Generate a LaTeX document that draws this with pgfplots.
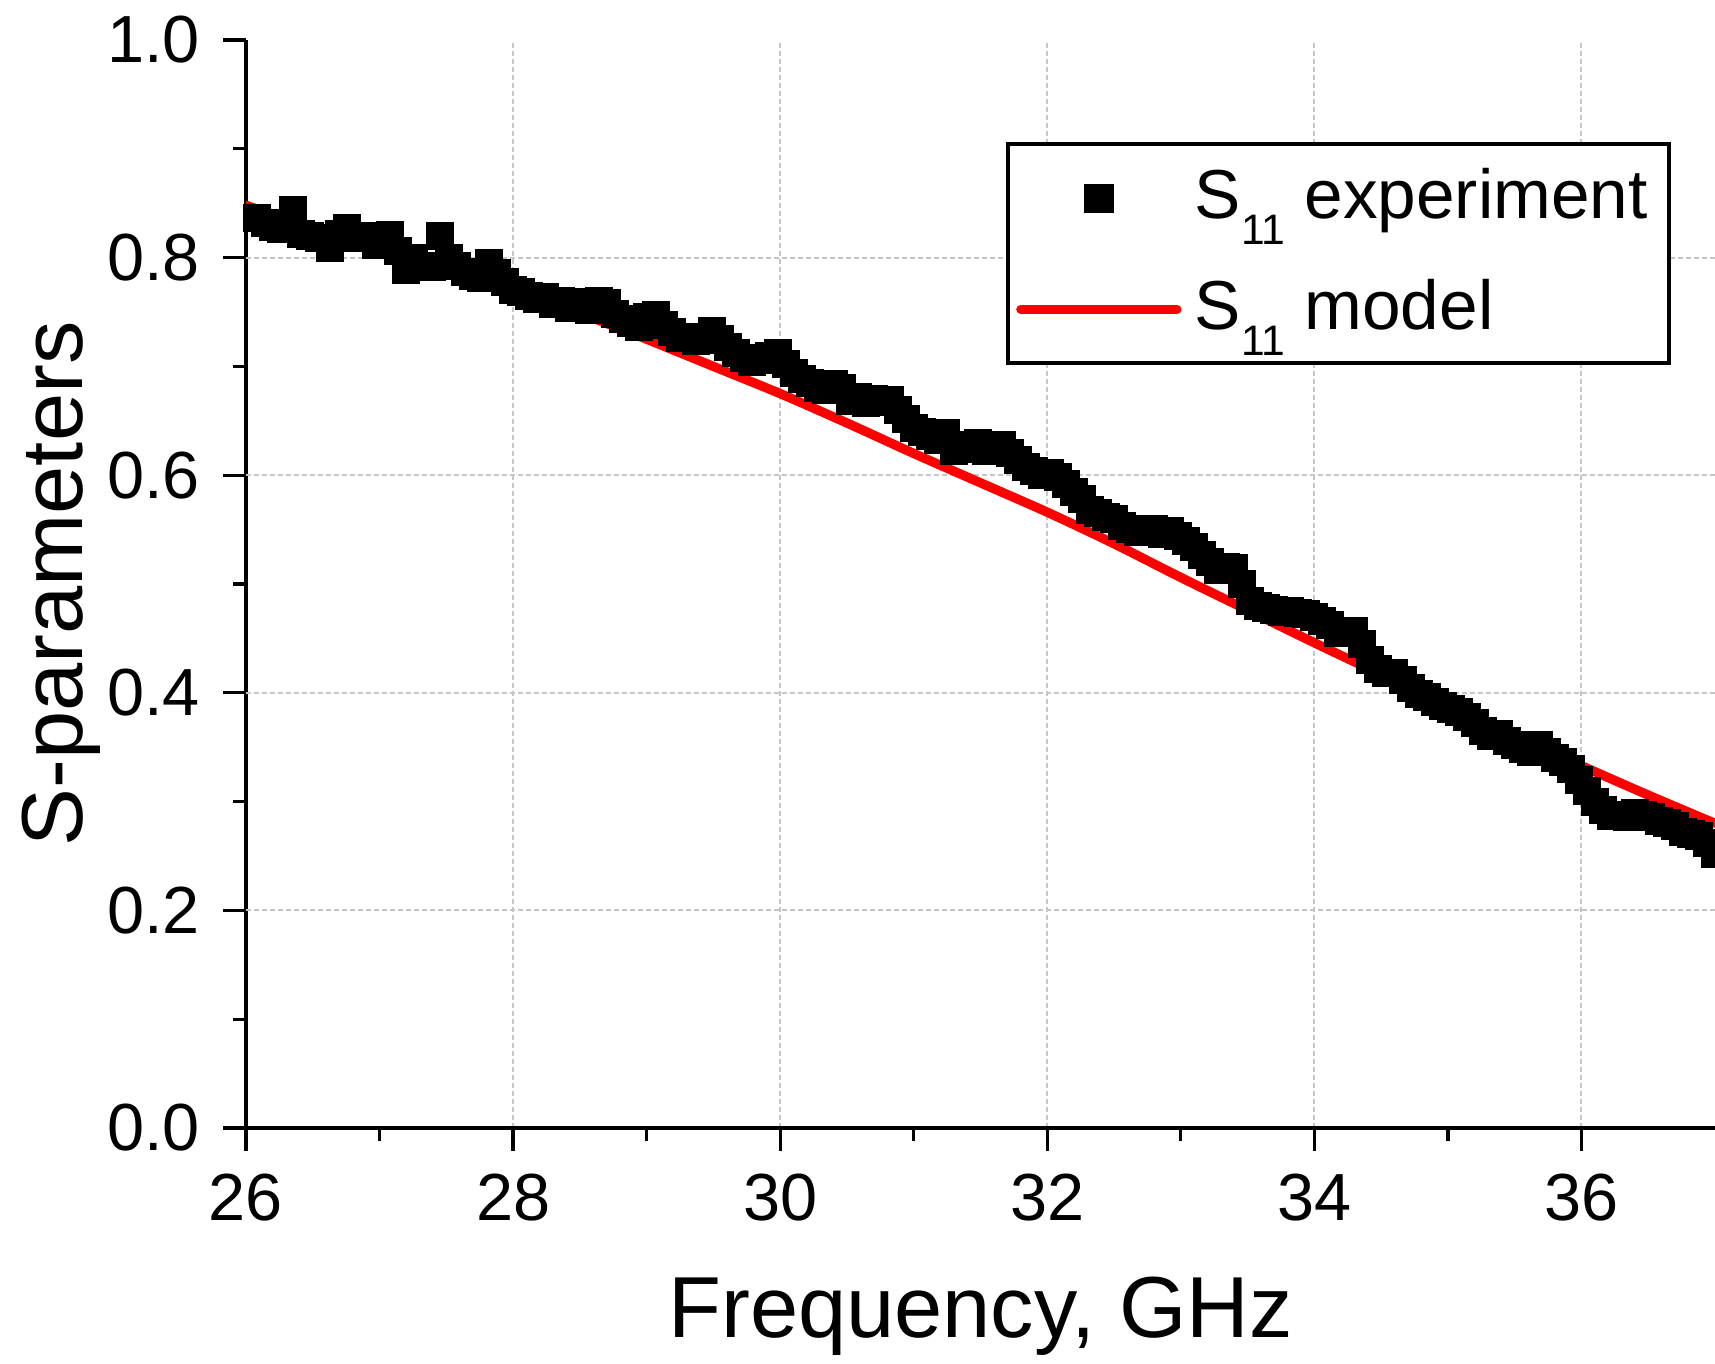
\documentclass[border=0pt]{standalone}
\usepackage{fontspec}
\setmainfont{Liberation Sans}
\usepackage{pgfplots}
\pgfplotsset{compat=1.18}
\usepackage{pgfplotstable}

\pgfplotsset{
  expimg/.style={legend image code/.code={\draw[##1] plot coordinates {(11.7pt,0pt)};}},
  modimg/.style={legend image code/.code={\draw[##1] (0pt,0pt) -- (23.4pt,0pt);}},
}

\pgfplotstableread{
f v
26.08 0.836
26.14 0.832
26.20 0.828
26.26 0.826
26.35 0.844
26.41 0.822
26.48 0.820
26.55 0.818
26.63 0.809
26.70 0.822
26.76 0.827
26.83 0.818
26.90 0.820
26.97 0.812
27.03 0.818
27.08 0.821
27.14 0.806
27.20 0.789
27.26 0.800
27.33 0.792
27.39 0.791
27.45 0.820
27.52 0.800
27.58 0.792
27.64 0.787
27.70 0.783
27.76 0.781
27.82 0.795
27.88 0.786
27.94 0.778
28.00 0.770
28.06 0.768
28.12 0.765
28.18 0.762
28.24 0.764
28.30 0.757
28.36 0.760
28.42 0.754
28.50 0.759
28.57 0.752
28.64 0.760
28.70 0.758
28.76 0.748
28.82 0.744
28.88 0.740
28.94 0.736
29.00 0.745
29.07 0.747
29.13 0.738
29.19 0.732
29.25 0.726
29.31 0.727
29.37 0.723
29.43 0.724
29.49 0.733
29.55 0.725
29.61 0.718
29.67 0.712
29.73 0.708
29.79 0.704
29.86 0.706
29.92 0.710
29.98 0.712
30.04 0.702
30.10 0.694
30.16 0.688
30.22 0.685
30.28 0.680
30.34 0.678
30.40 0.684
30.46 0.680
30.52 0.668
30.58 0.672
30.64 0.666
30.70 0.670
30.76 0.667
30.82 0.669
30.88 0.660
30.94 0.652
31.00 0.643
31.06 0.640
31.12 0.636
31.18 0.632
31.24 0.639
31.30 0.622
31.36 0.628
31.42 0.624
31.48 0.630
31.54 0.622
31.60 0.626
31.66 0.628
31.72 0.620
31.78 0.614
31.84 0.608
31.90 0.604
31.96 0.600
32.02 0.602
32.08 0.598
32.14 0.592
32.20 0.585
32.26 0.578
32.32 0.568
32.38 0.565
32.44 0.562
32.50 0.560
32.56 0.553
32.62 0.551
32.68 0.548
32.74 0.549
32.80 0.551
32.86 0.546
32.92 0.549
32.98 0.544
33.04 0.540
33.10 0.534
33.16 0.527
33.22 0.520
33.28 0.513
33.34 0.516
33.40 0.515
33.46 0.500
33.52 0.484
33.58 0.480
33.64 0.478
33.70 0.476
33.76 0.474
33.82 0.475
33.88 0.473
33.94 0.472
34.00 0.470
34.06 0.466
34.12 0.462
34.18 0.455
34.24 0.455
34.30 0.457
34.36 0.445
34.42 0.430
34.48 0.422
34.54 0.418
34.60 0.418
34.66 0.412
34.72 0.404
34.78 0.399
34.84 0.396
34.90 0.392
34.96 0.388
35.02 0.385
35.08 0.382
35.14 0.378
35.20 0.372
35.26 0.365
35.32 0.360
35.38 0.362
35.44 0.356
35.50 0.352
35.56 0.348
35.62 0.346
35.68 0.352
35.74 0.346
35.80 0.340
35.86 0.336
35.92 0.330
35.98 0.320
36.04 0.310
36.10 0.300
36.16 0.292
36.22 0.287
36.28 0.288
36.34 0.286
36.40 0.290
36.46 0.288
36.52 0.286
36.58 0.282
36.64 0.280
36.70 0.278
36.76 0.272
36.82 0.270
36.88 0.268
36.94 0.262
37.00 0.252
37.04 0.248
}\expdata

\pgfplotstableread{
f v
26.0 0.848
26.5 0.828
27.0 0.810
27.5 0.790
28.0 0.771
28.5 0.749
29.0 0.725
29.5 0.700
30.0 0.675
30.5 0.648
31.0 0.620
31.5 0.593
32.0 0.566
32.5 0.537
33.0 0.506
33.5 0.476
34.0 0.446
34.5 0.417
35.0 0.390
35.5 0.361
36.0 0.333
36.5 0.306
37.0 0.280
}\modeldata

\begin{document}
\begin{tikzpicture}
\begin{axis}[
  name=ax,
  scale only axis, width=220.35pt, height=163.2pt,
  xmin=26, xmax=37, ymin=0, ymax=1,
  axis x line*=bottom, axis y line*=left,
  axis line style={line width=0.6pt, -},
  xtick={26,28,...,36}, minor x tick num=1,
  ytick={0,0.2,0.4,0.6,0.8,1.0}, minor y tick num=1,
  tick align=outside, major tick length=3.4pt, minor tick length=1.9pt,
  every tick/.style={black, line width=0.5pt},
  xmajorgrids,
  grid style={gray!45, line width=0.3pt, dash pattern=on 0.7pt off 0.5pt},
  extra y ticks={0.2,0.4,0.6,0.8}, extra y tick labels={},
  extra y tick style={ymajorgrids=true, major tick length=0pt},
  /pgf/number format/assume math mode=true,
  yticklabel style={/pgf/number format/.cd, fixed, fixed zerofill, precision=1},
  tick label style={font=\fontsize{10}{12}\selectfont},
  xlabel={Frequency, GHz},
  ylabel={S-parameters},
  label style={font=\fontsize{13}{15}\selectfont},
  xlabel style={at={(axis description cs:0.5,-0.1921)}, anchor=base},
  ylabel style={at={(axis description cs:-0.1116,0.5)}, anchor=base},
  legend style={at={(0.5175,0.906)}, anchor=north west, draw=black, line width=0.6pt,
    fill=white, font=\fontsize{10.4}{12}\selectfont, inner xsep=1.2pt, inner ysep=1.6pt,
    row sep=3.6pt, /tikz/every even column/.append style={column sep=0pt}},
  legend cell align=left,
]
\addplot[only marks, mark=square*, mark size=1.9pt, black, expimg]
  table[x=f, y=v] {\expdata};
\addlegendentry{S\raisebox{-3.9pt}{\fontsize{6.4}{7}\selectfont 11} experiment}
\addplot[red, line width=1.4pt, smooth, line cap=round, modimg]
  table[x=f, y=v] {\modeldata};
\addlegendentry{S\raisebox{-3.9pt}{\fontsize{6.4}{7}\selectfont 11} model}
\end{axis}
\pgfresetboundingbox
\path[use as bounding box] ([shift={(-36.9pt,-35.25pt)}]ax.south west) rectangle ([shift={(0pt,6pt)}]ax.north east);
\end{tikzpicture}
\end{document}
